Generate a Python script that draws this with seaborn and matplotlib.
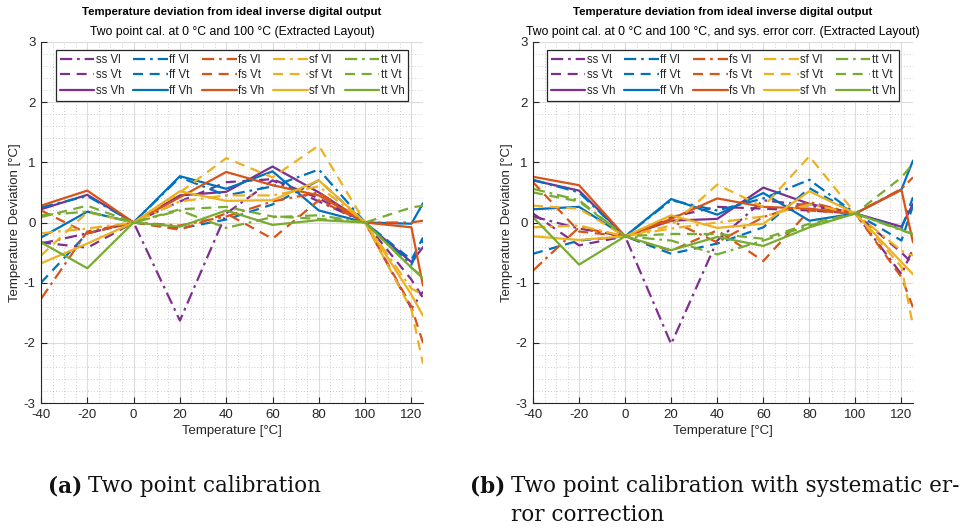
import matplotlib
matplotlib.use("Agg")
import matplotlib.pyplot as plt
from matplotlib.ticker import MultipleLocator
from matplotlib.lines import Line2D
import seaborn as sns
import pandas as pd

sns.set_theme(style="white")
plt.rcParams['font.family'] = ['Liberation Sans', 'DejaVu Sans']
plt.rcParams['axes.unicode_minus'] = False

# ---------------- data ----------------
temps = [-40, -20, 0, 20, 40, 60, 80, 100, 120, 125]
corners = ["ss", "ff", "fs", "sf", "tt"]
volts = ["Vl", "Vt", "Vh"]

# (a) two point calibration
a_ss_vl = [-0.35, -0.18, 0, -1.63, 0.15, 0.70, 0.35, 0, -1.43, -1.15]
a_ss_vt = [-0.33, -0.42, 0, 0.35, 0.67, 0.72, 0.40, 0, -0.95, -1.25]
a_ss_vh = [0.22, 0.46, 0, 0.45, 0.51, 0.93, 0.50, 0, -0.66, -0.41]
a_ff_vl = [0.25, 0.44, 0, 0.75, 0.45, 0.60, 0.88, 0, -0.70, -0.29]
a_ff_vt = [-1.00, -0.18, 0, -0.10, 0.05, 0.30, 0.70, 0, -0.62, -0.25]
a_ff_vh = [-0.25, 0.18, 0, 0.77, 0.56, 0.85, 0.20, 0, -0.02, 0.32]
a_fs_vl = [-1.27, -0.15, 0, -0.05, 0.10, 0.35, 0.50, 0, 0.00, 0.03]
a_fs_vt = [0.20, -0.18, 0, -0.12, 0.15, -0.27, 0.37, 0, -1.40, -2.00]
a_fs_vh = [0.28, 0.53, 0, 0.42, 0.84, 0.62, 0.45, 0, -0.08, -1.05]
a_sf_vl = [-0.18, -0.10, 0, 0.35, 0.45, 0.45, 0.60, 0, -1.10, -1.20]
a_sf_vt = [-0.55, 0.17, 0, 0.50, 1.07, 0.75, 1.28, 0, -1.45, -2.35]
a_sf_vh = [-0.68, -0.35, 0, 0.52, 0.36, 0.37, 0.70, 0, -1.20, -1.55]
a_tt_vl = [0.12, 0.18, 0, 0.20, -0.09, 0.09, 0.12, 0, -0.75, -0.91]
a_tt_vt = [0.09, 0.28, 0, 0.22, 0.26, 0.10, 0.06, 0, 0.25, 0.28]
a_tt_vh = [-0.33, -0.76, 0, -0.07, 0.20, -0.04, 0.04, 0, -0.75, -0.93]

# (b) two point calibration with systematic error correction
b_ss_vl = [0.10, -0.10, -0.23, -2.02, -0.30, 0.37, 0.28, 0.15, -0.86, -0.44]
b_ss_vt = [0.15, -0.38, -0.23, 0.09, 0.26, 0.23, 0.20, 0.15, -0.50, -0.69]
b_ss_vh = [0.70, 0.53, -0.23, 0.03, 0.06, 0.58, 0.31, 0.15, -0.07, 0.31]
b_ff_vl = [0.71, 0.50, -0.23, 0.37, 0.20, 0.40, 0.71, 0.15, -0.10, 0.42]
b_ff_vt = [-0.52, -0.30, -0.23, -0.52, -0.35, -0.08, 0.57, 0.15, -0.30, 0.28]
b_ff_vh = [0.22, 0.26, -0.23, 0.39, 0.13, 0.49, 0.03, 0.15, 0.55, 1.03]
b_fs_vl = [-0.80, -0.08, -0.23, 0.03, -0.33, 0.09, 0.34, 0.15, 0.56, 0.75]
b_fs_vt = [0.67, -0.15, -0.23, -0.47, -0.13, -0.64, 0.20, 0.15, -0.91, -1.41]
b_fs_vh = [0.76, 0.62, -0.23, 0.06, 0.40, 0.26, 0.23, 0.15, 0.54, -0.33]
b_sf_vl = [-0.08, -0.05, -0.23, -0.10, 0.00, 0.10, 0.30, 0.15, -0.47, -0.55]
b_sf_vt = [0.28, 0.23, -0.23, -0.05, 0.63, 0.26, 1.10, 0.15, -0.74, -1.72]
b_sf_vh = [-0.23, -0.29, -0.23, 0.12, -0.09, -0.02, 0.52, 0.15, -0.66, -0.86]
b_tt_vl = [0.56, 0.37, -0.23, -0.30, -0.53, -0.30, -0.05, 0.15, -0.13, -0.19]
b_tt_vt = [0.50, 0.35, -0.23, -0.19, -0.19, -0.27, -0.02, 0.15, 0.75, 0.98]
b_tt_vh = [0.09, -0.70, -0.23, -0.46, -0.24, -0.39, -0.08, 0.15, -0.12, -0.20]

series_a = {
    ("ss", "Vl"): a_ss_vl, ("ss", "Vt"): a_ss_vt, ("ss", "Vh"): a_ss_vh,
    ("ff", "Vl"): a_ff_vl, ("ff", "Vt"): a_ff_vt, ("ff", "Vh"): a_ff_vh,
    ("fs", "Vl"): a_fs_vl, ("fs", "Vt"): a_fs_vt, ("fs", "Vh"): a_fs_vh,
    ("sf", "Vl"): a_sf_vl, ("sf", "Vt"): a_sf_vt, ("sf", "Vh"): a_sf_vh,
    ("tt", "Vl"): a_tt_vl, ("tt", "Vt"): a_tt_vt, ("tt", "Vh"): a_tt_vh,
}
series_b = {
    ("ss", "Vl"): b_ss_vl, ("ss", "Vt"): b_ss_vt, ("ss", "Vh"): b_ss_vh,
    ("ff", "Vl"): b_ff_vl, ("ff", "Vt"): b_ff_vt, ("ff", "Vh"): b_ff_vh,
    ("fs", "Vl"): b_fs_vl, ("fs", "Vt"): b_fs_vt, ("fs", "Vh"): b_fs_vh,
    ("sf", "Vl"): b_sf_vl, ("sf", "Vt"): b_sf_vt, ("sf", "Vh"): b_sf_vh,
    ("tt", "Vl"): b_tt_vl, ("tt", "Vt"): b_tt_vt, ("tt", "Vh"): b_tt_vh,
}

title_main = "Temperature deviation from ideal inverse digital output"
subtitle_a = "Two point cal. at 0 \u00b0C and 100 \u00b0C (Extracted Layout)"
subtitle_b = "Two point cal. at 0 \u00b0C and 100 \u00b0C, and sys. error corr. (Extracted Layout)"
xlabel = "Temperature [\u00b0C]"
ylabel = "Temperature Deviation [\u00b0C]"
cap_a = ("(a)", "Two point calibration")
cap_b = ("(b)", "Two point calibration with systematic er-\nror correction")

# ---------------- style ----------------
colors = {"ss": "#7E2F8E", "ff": "#0072BD", "fs": "#D95319",
          "sf": "#EDB120", "tt": "#77AC30"}
styles = {"Vl": (0, (5.5, 2.2, 1.2, 2.2)), "Vt": (0, (4.5, 3.0)), "Vh": "-"}
LW = 1.6

W, H = 966, 530
fig = plt.figure(figsize=(W / 100, H / 100), dpi=100)


def make_df(series):
    rows = []
    for (c, v), vals in series.items():
        for t, d in zip(temps, vals):
            rows.append({"T": t, "dev": d, "corner": c, "volt": v,
                         "name": f"{c} {v}"})
    return pd.DataFrame(rows)


def draw(ax, series, subtitle):
    df = make_df(series)
    handles = []
    for c in corners:
        for v in volts:
            sub = df[(df.corner == c) & (df.volt == v)]
            sns.lineplot(data=sub, x="T", y="dev", ax=ax, color=colors[c],
                         linestyle=styles[v], linewidth=LW, sort=False,
                         estimator=None, legend=False)
            handles.append(Line2D([0], [0], color=colors[c],
                                  linestyle=styles[v], linewidth=LW,
                                  label=f"{c} {v}"))
    ax.set_xlim(-40, 125)
    ax.set_ylim(-3, 3)
    ax.set_xticks([-40, -20, 0, 20, 40, 60, 80, 100, 120])
    ax.set_yticks([-3, -2, -1, 0, 1, 2, 3])
    ax.xaxis.set_minor_locator(MultipleLocator(5))
    ax.yaxis.set_minor_locator(MultipleLocator(0.2))
    ax.grid(True, which="major", color="#dcdcdc", linewidth=0.8)
    ax.grid(True, which="minor", color="#c0c0c0", linewidth=0.6,
            linestyle=(0, (1, 2.5)))
    ax.set_axisbelow(True)
    for s in ["top", "right"]:
        ax.spines[s].set_visible(False)
    for s in ["left", "bottom"]:
        ax.spines[s].set_color("#262626")
        ax.spines[s].set_linewidth(0.8)
    ax.tick_params(axis="both", which="major", direction="in", length=4,
                   width=0.8, color="#262626", labelsize=9.5,
                   labelcolor="#262626", pad=4, left=True, bottom=True)
    ax.tick_params(axis="both", which="minor", length=0)
    ax.set_xlabel(xlabel, fontsize=9.5, color="#262626", labelpad=3)
    ax.set_ylabel(ylabel, fontsize=9.5, color="#262626", labelpad=2)
    ax.text(0.5, 1.068, title_main, transform=ax.transAxes, ha="center",
            va="bottom", fontsize=8.2, fontweight="bold", color="black")
    ax.text(0.5, 1.012, subtitle, transform=ax.transAxes, ha="center",
            va="bottom", fontsize=8.8, color="black")
    leg = ax.legend(handles=handles, ncol=5, loc="upper center",
                    bbox_to_anchor=(0.5, 0.978), fontsize=8.3,
                    frameon=True, fancybox=False, edgecolor="#262626",
                    framealpha=1, handlelength=3.0, handletextpad=0.12,
                    columnspacing=0.8, labelspacing=0.3, borderpad=0.35,
                    borderaxespad=0)
    leg.get_frame().set_linewidth(0.9)


ax_a = fig.add_axes([41 / W, 1 - 403 / H, (423 - 41) / W, (403 - 42) / H])
ax_b = fig.add_axes([533 / W, 1 - 403 / H, (913 - 533) / W, (403 - 42) / H])
draw(ax_a, series_a, subtitle_a)
draw(ax_b, series_b, subtitle_b)


def caption(x, y, parts):
    t1 = fig.text(x / W, 1 - y / H, parts[0], fontsize=15.5,
                  fontweight="bold", family="DejaVu Serif", va="top",
                  ha="left", color="#111111")
    fig.canvas.draw()
    bb = t1.get_window_extent()
    fig.text((bb.x1 + 6) / W, 1 - y / H, parts[1], fontsize=15.5,
             family="DejaVu Serif", va="top", ha="left", color="#111111",
             linespacing=1.4)


caption(48, 475, cap_a)
caption(470, 475, cap_b)

fig.savefig("out.png", dpi=100)
